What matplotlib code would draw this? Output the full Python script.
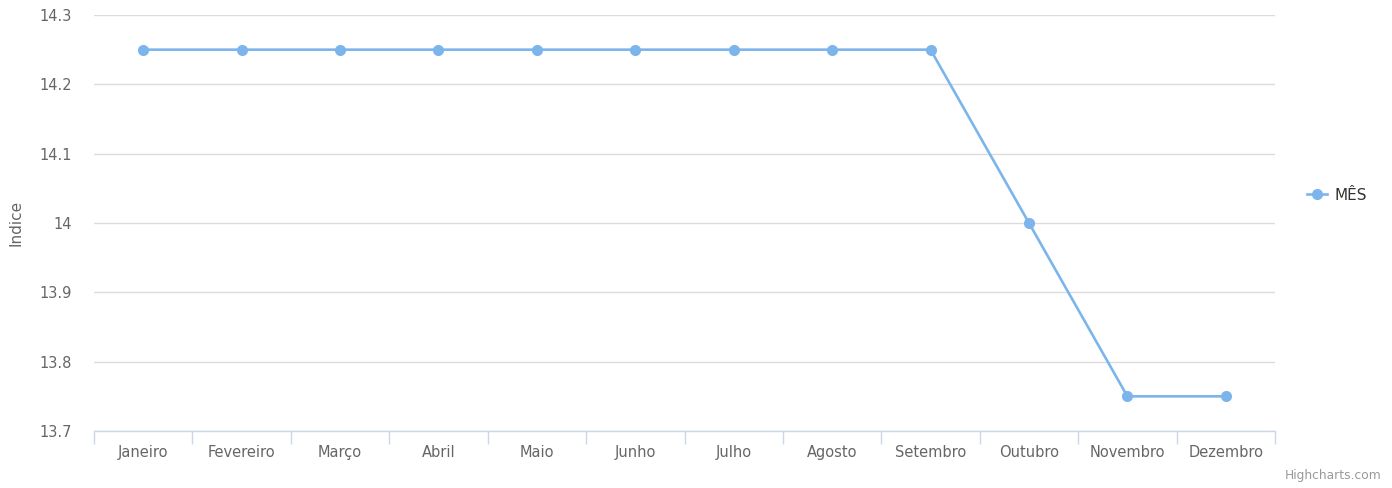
import matplotlib
matplotlib.use("Agg")
import matplotlib.pyplot as plt
from matplotlib.lines import Line2D

plt.rcParams["font.family"] = ["DejaVu Sans"]

# Chart data
months = ["Janeiro", "Fevereiro", "Março", "Abril", "Maio", "Junho",
          "Julho", "Agosto", "Setembro", "Outubro", "Novembro", "Dezembro"]
values = [14.25, 14.25, 14.25, 14.25, 14.25, 14.25,
          14.25, 14.25, 14.25, 14.0, 13.75, 13.75]
y_ticks = [13.7, 13.8, 13.9, 14.0, 14.1, 14.2, 14.3]
y_tick_labels = ["13.7", "13.8", "13.9", "14", "14.1", "14.2", "14.3"]
series_name = "MÊS"

color = "#7cb5ec"
label_color = "#666666"

fig = plt.figure(figsize=(13.92, 4.88), dpi=100)
ax = fig.add_axes([94 / 1392, 57 / 488, (1275 - 94) / 1392, (431 - 15) / 488])

x = list(range(len(months)))
ax.plot(x, values, color=color, lw=1.9, marker="o", markersize=8,
        markeredgewidth=0, zorder=3)

ax.set_xlim(-0.5, len(months) - 0.5)
ax.set_ylim(13.7, 14.3)

# gridlines
ax.set_yticks(y_ticks)
ax.set_yticklabels(y_tick_labels)
ax.grid(axis="y", color="#dcdcdc", lw=1)
ax.set_axisbelow(True)

# category labels at centres, tick marks at boundaries
ax.set_xticks(x)
ax.set_xticklabels(months)
ax.set_xticks([i - 0.5 for i in range(len(months) + 1)], minor=True)
ax.tick_params(axis="x", which="major", length=0, pad=10, labelsize=10.5,
               labelcolor=label_color)
ax.tick_params(axis="x", which="minor", length=9, width=1, color="#ccd6eb",
               direction="out")
ax.tick_params(axis="y", length=0, pad=16, labelsize=10.5, labelcolor=label_color)

for side in ["top", "right", "left"]:
    ax.spines[side].set_visible(False)
ax.spines["bottom"].set_color("#ccd6eb")
ax.spines["bottom"].set_linewidth(1)

ax.set_ylabel("Indice", color=label_color, fontsize=11, labelpad=11)

# legend at right
handle = Line2D([0], [0], color=color, lw=1.9, marker="o", markersize=8,
                markeredgewidth=0)
fig.legend([handle], [series_name], loc="center left",
           bbox_to_anchor=(1293 / 1392, 1 - 195 / 488), frameon=False,
           fontsize=11, handlelength=1.3, handletextpad=0.5,
           labelcolor="#333333")

fig.text(1381 / 1392, 1 - 475 / 488, "Highcharts.com", ha="right", va="center",
         fontsize=8.8, color="#999999")

fig.savefig("out.png", dpi=100)
